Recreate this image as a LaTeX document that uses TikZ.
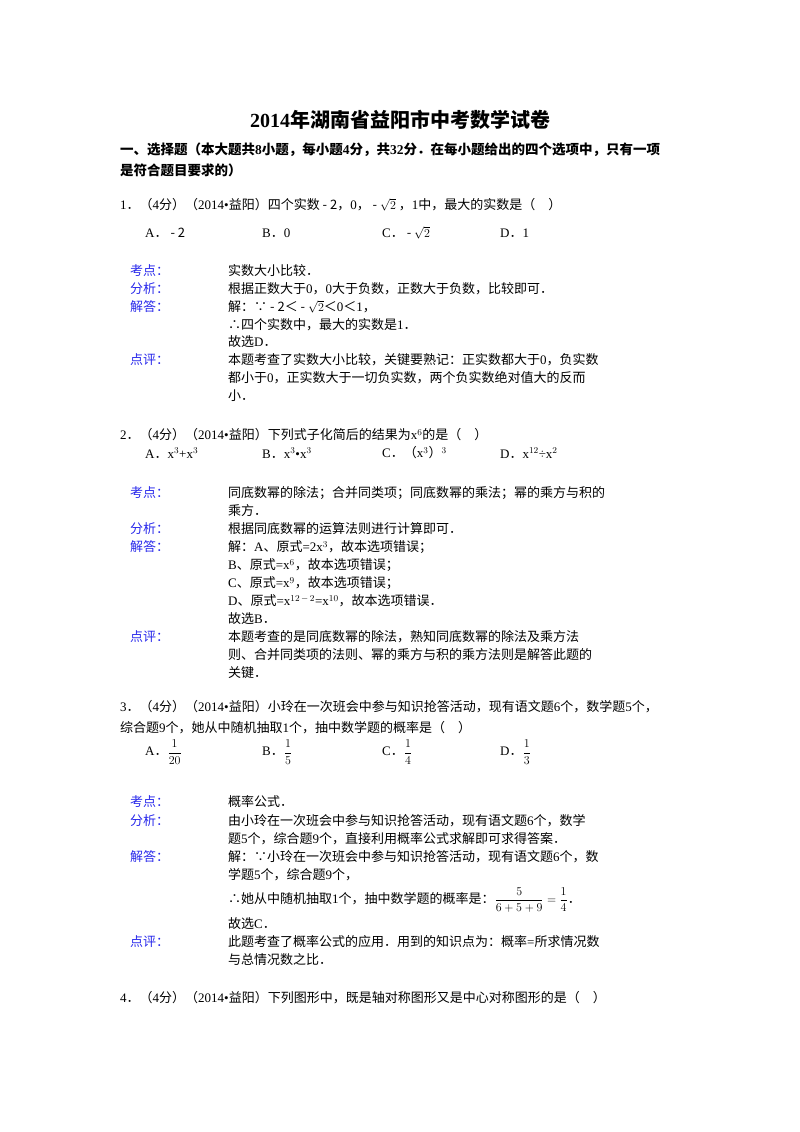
\documentclass[tikz,border=0pt]{standalone}
\usepackage{amsmath}
\usepackage{fontspec}
\setmainfont{Liberation Serif}
\newfontfamily\lat{Liberation Serif}
\newfontfamily\cjk{Noto Sans CJK SC}
\XeTeXinterchartokenstate=1
\newXeTeXintercharclass\cjkclass
\makeatletter
\def\setcjkrange#1#2{\count@=#1\relax
  \loop\XeTeXcharclass\count@=\cjkclass\advance\count@ by 1\relax
  \ifnum\count@<#2\repeat}
\makeatother
\setcjkrange{"4E00}{"A000}
\setcjkrange{"3000}{"3040}
\setcjkrange{"FF00}{"FFF0}
\XeTeXcharclass"2234=\cjkclass
\XeTeXcharclass"2235=\cjkclass
\XeTeXinterchartoks 0 \cjkclass {\cjk}
\XeTeXinterchartoks 4095 \cjkclass {\cjk}
\XeTeXinterchartoks \cjkclass 0 {\lat}
\definecolor{lblblue}{RGB}{40,40,235}
\tikzset{
  txt/.style={anchor=west, inner sep=0pt, font=\fontsize{13}{15}\selectfont},
  lbl/.style={txt, text=lblblue},
  ttl/.style={inner sep=0pt, font=\fontsize{20}{24}\selectfont\bfseries},
  hdr/.style={txt, font=\fontsize{13.5}{16}\selectfont\bfseries}
}
\begin{document}
\begin{tikzpicture}[x=1pt,y=-1pt]
\useasboundingbox (0,0) rectangle (800,1132);
\node[ttl] (title) at (400,120) {2014年湖南省益阳市中考数学试卷};
\node[hdr] (h1) at (120,150) {一、选择题（本大题共8小题，每小题4分，共32分．在每小题给出的四个选项中，只有一项};
\node[hdr] (h2) at (120,170) {是符合题目要求的）};
% question 1
\node[txt] (q1) at (120,205) {1．（4分）（2014•益阳）四个实数 - 2，0， - $\sqrt{2}$ ，1中，最大的实数是（　）};
\node[txt] (q1a) at (145,233) {A． - 2};
\node[txt] (q1b) at (262,233) {B．0};
\node[txt] (q1c) at (382,233) {C． - $\sqrt{2}$};
\node[txt] (q1d) at (500,233) {D．1};
\node[lbl] (k1l) at (130,271) {考点：};
\node[txt] (k1) at (228,271) {实数大小比较．};
\node[lbl] (f1l) at (130,289) {分析：};
\node[txt] (f1) at (228,289) {根据正数大于0，0大于负数，正数大于负数，比较即可．};
\node[lbl] (j1l) at (130,307) {解答：};
\node[txt] (j1a) at (228,307) {解：∵ - 2＜ - $\sqrt{2}$＜0＜1，};
\node[txt] (j1b) at (228,325) {∴四个实数中，最大的实数是1．};
\node[txt] (j1c) at (228,342) {故选D．};
\node[lbl] (d1l) at (130,360) {点评：};
\node[txt] (d1a) at (228,360) {本题考查了实数大小比较，关键要熟记：正实数都大于0，负实数};
\node[txt] (d1b) at (228,378) {都小于0，正实数大于一切负实数，两个负实数绝对值大的反而};
\node[txt] (d1c) at (228,396) {小．};
% question 2
\node[txt] (q2) at (120,435) {2．（4分）（2014•益阳）下列式子化简后的结果为x$^{6}$的是（　）};
\node[txt] (q2a) at (145,453) {A．x$^{3}$+x$^{3}$};
\node[txt] (q2b) at (262,453) {B．x$^{3}$•x$^{3}$};
\node[txt] (q2c) at (382,453) {C．（x$^{3}$）$^{3}$};
\node[txt] (q2d) at (500,453) {D．x$^{12}$÷x$^{2}$};
\node[lbl] (k2l) at (130,493) {考点：};
\node[txt] (k2a) at (228,493) {同底数幂的除法；合并同类项；同底数幂的乘法；幂的乘方与积的};
\node[txt] (k2b) at (228,511) {乘方．};
\node[lbl] (f2l) at (130,529) {分析：};
\node[txt] (f2) at (228,529) {根据同底数幂的运算法则进行计算即可．};
\node[lbl] (j2l) at (130,547) {解答：};
\node[txt] (j2a) at (228,547) {解：A、原式=2x$^{3}$，故本选项错误；};
\node[txt] (j2b) at (228,565) {B、原式=x$^{6}$，故本选项错误；};
\node[txt] (j2c) at (228,583) {C、原式=x$^{9}$，故本选项错误；};
\node[txt] (j2d) at (228,601) {D、原式=x$^{12\,-\,2}$=x$^{10}$，故本选项错误．};
\node[txt] (j2e) at (228,619) {故选B．};
\node[lbl] (d2l) at (130,637) {点评：};
\node[txt] (d2a) at (228,637) {本题考查的是同底数幂的除法，熟知同底数幂的除法及乘方法};
\node[txt] (d2b) at (228,655) {则、合并同类项的法则、幂的乘方与积的乘方法则是解答此题的};
\node[txt] (d2c) at (228,673) {关键．};
% question 3
\node[txt] (q3a) at (120,707) {3．（4分）（2014•益阳）小玲在一次班会中参与知识抢答活动，现有语文题6个，数学题5个，};
\node[txt] (q3b) at (120,728) {综合题9个，她从中随机抽取1个，抽中数学题的概率是（　）};
\node[txt] (q3o1) at (145,752) {A．$\dfrac{1}{20}$};
\node[txt] (q3o2) at (262,752) {B．$\dfrac{1}{5}$};
\node[txt] (q3o3) at (382,752) {C．$\dfrac{1}{4}$};
\node[txt] (q3o4) at (500,752) {D．$\dfrac{1}{3}$};
\node[lbl] (k3l) at (130,802) {考点：};
\node[txt] (k3) at (228,802) {概率公式．};
\node[lbl] (f3l) at (130,821) {分析：};
\node[txt] (f3a) at (228,821) {由小玲在一次班会中参与知识抢答活动，现有语文题6个，数学};
\node[txt] (f3b) at (228,839) {题5个，综合题9个，直接利用概率公式求解即可求得答案．};
\node[lbl] (j3l) at (130,857) {解答：};
\node[txt] (j3a) at (228,857) {解：∵小玲在一次班会中参与知识抢答活动，现有语文题6个，数};
\node[txt] (j3b) at (228,875) {学题5个，综合题9个，};
\node[txt] (j3c) at (228,900) {∴她从中随机抽取1个，抽中数学题的概率是：$\dfrac{5}{6+5+9}=\dfrac{1}{4}$．};
\node[txt] (j3d) at (228,924) {故选C．};
\node[lbl] (d3l) at (130,942) {点评：};
\node[txt] (d3a) at (228,942) {此题考查了概率公式的应用．用到的知识点为：概率=所求情况数};
\node[txt] (d3b) at (228,960) {与总情况数之比．};
% question 4
\node[txt] (q4) at (120,998) {4．（4分）（2014•益阳）下列图形中，既是轴对称图形又是中心对称图形的是（　）};
\end{tikzpicture}
\end{document}
